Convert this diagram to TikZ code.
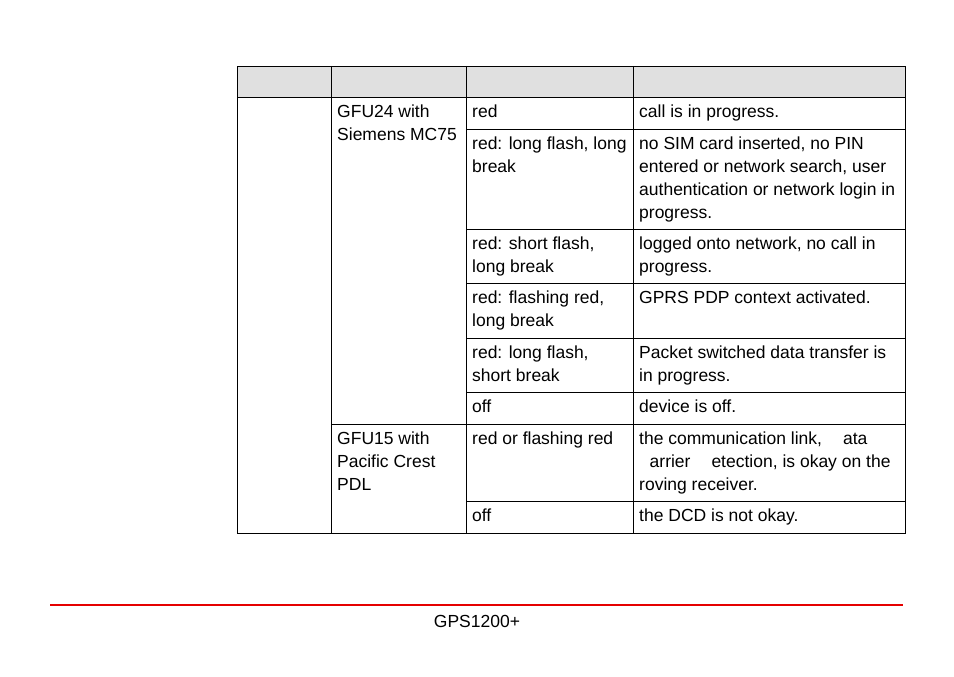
\documentclass[tikz,border=0pt]{standalone}
\usepackage{fontspec}
\setmainfont{Liberation Sans}
\tikzset{%
  % cell text and rules
    cell/.style = {anchor=north west, inner sep=0pt, align=left,
                   font=\fontsize{17.5}{23}\selectfont},
    rule/.style = {draw=black, line width=0.8pt},
    head/.style = {fill=black!12, draw=black, line width=0.8pt}
}
\begin{document}
\begin{tikzpicture}[x=1pt,y=-1pt]
\useasboundingbox (0,0) rectangle (954,677);

% header row
\filldraw[head] (237,66) rectangle (905,97);
\foreach \xc in {331,466,633}
  \draw[rule] (\xc,66) -- (\xc,97);

% body frame and column rules
\draw[rule] (237,97) rectangle (905,533);
\draw[rule] (331,97) -- (331,533);
\draw[rule] (466,97) -- (466,533);
\draw[rule] (633,97) -- (633,533);
\foreach \yr in {129,229,283,338,392,501}
  \draw[rule] (466,\yr) -- (905,\yr);
\draw[rule] (331,424) -- (905,424);

% device column
\node[cell] (gfu24) at (337,105) {GFU24 with\\Siemens MC75};
\node[cell] (gfu15) at (337,432) {GFU15 with\\Pacific Crest\\PDL};

% led column
\node[cell] (ledA) at (472,105) {red};
\node[cell] (ledB) at (472,137) {red: long flash, long\\break};
\node[cell] (ledC) at (472,237) {red: short flash,\\long break};
\node[cell] (ledD) at (472,291) {red: flashing red,\\long break};
\node[cell] (ledE) at (472,346) {red: long flash,\\short break};
\node[cell] (ledF) at (472,400) {off};
\node[cell] (ledG) at (472,432) {red or flashing red};
\node[cell] (ledH) at (472,509) {off};

% meaning column
\node[cell] (infoA) at (639,105) {call is in progress.};
\node[cell] (infoB) at (639,137) {no SIM card inserted, no PIN\\entered or network search, user\\authentication or network login in\\progress.};
\node[cell] (infoC) at (639,237) {logged onto network, no call in\\progress.};
\node[cell] (infoD) at (639,291) {GPRS PDP context activated.};
\node[cell] (infoE) at (639,346) {Packet switched data transfer is\\in progress.};
\node[cell] (infoF) at (639,400) {device is off.};
\node[cell] (infoG) at (639,432) {the communication link,\hspace{1.2em}ata\\\hspace{0.6em}arrier\hspace{1.2em}etection, is okay on the\\roving receiver.};
\node[cell] (infoH) at (639,509) {the DCD is not okay.};

% footer
\draw[draw=red!90!black, line width=1.2pt] (50,605) -- (903,605);
\node[font=\fontsize{17.5}{20}\selectfont, inner sep=0pt] (foot) at (477,621) {GPS1200+};
\end{tikzpicture}
\end{document}
